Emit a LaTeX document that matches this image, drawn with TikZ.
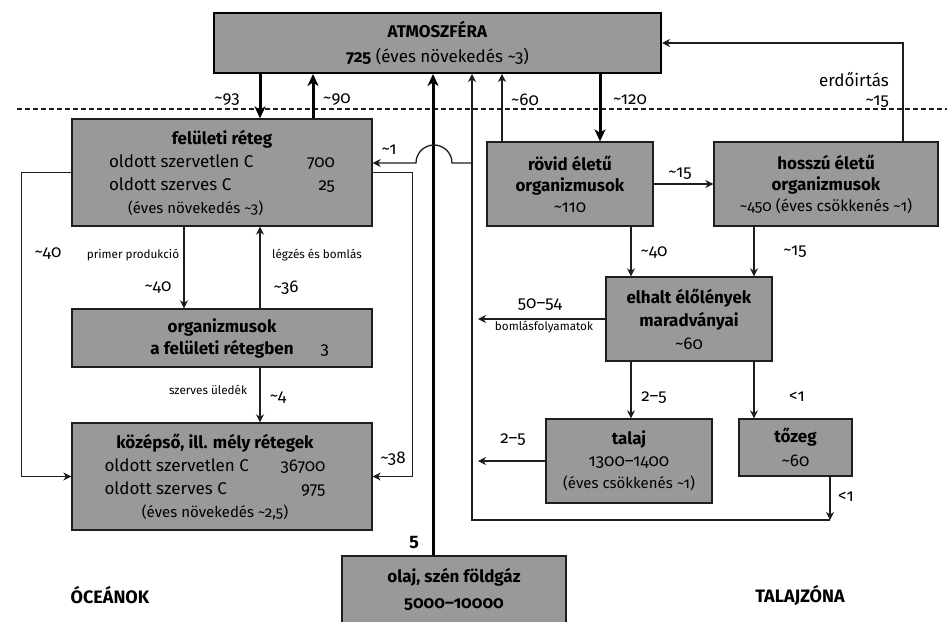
\documentclass[tikz,border=0pt]{standalone}
\usepackage{fontspec}
\setmainfont{Fira Sans}[Numbers=OldStyle]
\usetikzlibrary{arrows.meta}
\newcommand\apx{\textasciitilde}
\newcommand\kline[1]{\makebox[235pt][l]{\makebox[221pt]{#1}}}
\definecolor{boxgray}{RGB}{153,153,153}
\definecolor{ink}{RGB}{30,30,30}
\begin{document}
\begin{tikzpicture}[x=1pt,y=-1pt,
 box/.style={draw=ink, fill=boxgray, line width=1.3pt, inner sep=0pt, align=center, font=\fontsize{17}{23}\selectfont},
 arr/.style={draw=ink, line width=1.3pt, -{Stealth[length=8pt,width=8pt,inset=2.5pt]}},
 thk/.style={draw=black, line width=3pt, -{Stealth[length=12pt,width=11pt,inset=3.5pt]}},
 lab/.style={font=\fontsize{17}{20}\selectfont, inner sep=0pt},
 sml/.style={font=\fontsize{11.7}{14}\selectfont, inner sep=0pt},
 ttl/.style={font=\fontsize{18}{20}\selectfont\bfseries, inner sep=0pt},
]
\useasboundingbox (0,0) rectangle (947,621);
\clip (0,0) rectangle (947,621);

% dashed boundary
\coordinate (d0) at (17,109);
\coordinate (d1) at (947,109);
\draw[dash pattern=on 5pt off 3pt, line width=1.1pt, draw=ink] (d0) -- (d1);

% boxes
\node[box, minimum width=447pt, minimum height=60pt, line width=2pt, draw=black, font=\fontsize{17}{25}\selectfont] (atm) at (437.5,43)
  {\textbf{ATMOSZFÉRA}\\\textbf{725} (éves növekedés \apx3)};
\node[box, minimum width=300pt, minimum height=107pt] (fel) at (222,172.5)
  {\textbf{felületi réteg}\\
   \makebox[226pt]{oldott szervetlen C\hfill 700}\\
   \makebox[226pt]{oldott szerves C\hfill 25}\\
   \makebox[226pt][l]{\hspace{19pt}\fontsize{15}{23}\selectfont(éves növekedés \apx3)}};
\node[box, minimum width=300pt, minimum height=58pt, font=\fontsize{17}{22}\selectfont\bfseries] (org) at (222,338)
  {organizmusok\\a felületi rétegben\rlap{\hspace{27pt}\mdseries 3}};
\node[box, minimum width=300pt, minimum height=107pt] (koz) at (222,476.5)
  {\kline{\textbf{középső, ill. mély rétegek}}\\
   \kline{oldott szervetlen C\hfill 36700}\\
   \kline{oldott szerves C\hfill 975}\\
   \kline{\fontsize{15}{23}\selectfont(éves növekedés \apx2,5)}};
\node[box, minimum width=166pt, minimum height=84pt, font=\fontsize{17}{21}\selectfont] (rov) at (570,184)
  {\textbf{rövid életű}\\\textbf{organizmusok}\\\apx110};
\node[box, minimum width=224pt, minimum height=84pt, font=\fontsize{17}{21}\selectfont] (hos) at (826,184)
  {\textbf{hosszú életű}\\\textbf{organizmusok}\\{\fontsize{15.5}{21}\selectfont\apx450 (éves csökkenés \apx1)}};
\node[box, minimum width=166pt, minimum height=84pt] (elh) at (689,319)
  {\textbf{elhalt élőlények}\\\textbf{maradványai}\\\apx60};
\node[box, minimum width=166pt, minimum height=84pt, font=\fontsize{17}{22}\selectfont] (tal) at (629,461)
  {\textbf{talaj}\\1300–1400\\{\fontsize{15}{22}\selectfont(éves csökkenés \apx1)}};
\node[box, minimum width=113pt, minimum height=57pt, font=\fontsize{17}{24}\selectfont] (toz) at (795.5,447.5)
  {\textbf{tőzeg}\\\apx60};
\node[box, minimum width=224pt, minimum height=67pt, font=\fontsize{17}{26}\selectfont\bfseries] (ola) at (454,589.5)
  {olaj, szén földgáz\\5000–10000};

% coordinates
\coordinate (xA) at (260,0);
\coordinate (xB) at (313,0);
\coordinate (xC) at (433,0);
\coordinate (xD) at (472,0);
\coordinate (xE) at (502,0);
\coordinate (xF) at (600,0);
\coordinate (xG) at (631,0);
\coordinate (xH) at (754,0);
\coordinate (xI) at (903,0);
\coordinate (xJ) at (184,0);
\coordinate (xK) at (830,0);
\coordinate (hop) at (472,163);
\coordinate (jn) at (830,520);
\coordinate (e1) at (478,319);
\coordinate (e2) at (478,461);

% atmosphere exchanges
\draw[thk] (atm.south -| xA) -- (fel.north -| xA);
\draw[thk] (fel.north -| xB) -- (atm.south -| xB);
\draw[thk] (ola.north -| xC) -- (atm.south -| xC);
\draw[arr] (rov.north -| xE) -- (atm.south -| xE);
\draw[thk] (atm.south -| xF) -- (rov.north -| xF);
\draw[arr] (hos.north -| xI) |- (atm.east);

% peat / return line
\draw[arr] (toz.south -| xK) -- (jn);
\draw[arr] (jn) -- (jn -| xD) -- (atm.south -| xD);
\draw[arr] (hop) -- ++(-20,0) arc[start angle=0, end angle=180, radius=18pt] -- (fel.east |- hop);

% land
\draw[arr] (rov.east) -- (hos.west);
\draw[arr] (rov.south -| xG) -- (elh.north -| xG);
\draw[arr] (hos.south -| xH) -- (elh.north -| xH);
\draw[arr] (elh.west) -- (e1);
\draw[arr] (elh.south -| xG) -- (tal.north -| xG);
\draw[arr] (elh.south -| xH) -- (toz.north -| xH);
\draw[arr] (tal.west) -- (e2);

% ocean
\draw[arr] (fel.west) -- ++(-50,0) |- (koz.west);
\draw[arr] (fel.east) -- ++(40,0) |- (koz.east);
\draw[arr] (fel.south -| xJ) -- (org.north -| xJ);
\draw[arr] (org.north -| xA) -- (fel.south -| xA);
\draw[arr] (org.south -| xA) -- (koz.north -| xA);

% labels
\node[lab] (l93) at (227,100) {\apx93};
\node[lab] (l90) at (337,100) {\apx90};
\node[lab] (l1) at (389,150) {\apx1};
\node[lab] (l60) at (525,100) {\apx60};
\node[lab] (l120) at (630,100) {\apx120};
\node[lab, anchor=east] (lerd) at (889,80) {erdőirtás};
\node[lab, anchor=east] (lerd2) at (889,102) {\apx15};
\node[lab] (l15a) at (680,174) {\apx15};
\node[lab] (l40r) at (654,253) {\apx40};
\node[lab] (l15b) at (795,252) {\apx15};
\node[lab] (l5054) at (540,305) {50–54};
\node[sml] (lboml) at (544,327) {bomlásfolyamatok};
\node[lab] (l25a) at (654,398) {2–5};
\node[lab] (llt1) at (797,397) {<1};
\node[lab] (l25b) at (513,440) {2–5};
\node[lab] (llt2) at (846,497) {<1};
\node[lab] (l40a) at (48,254) {\apx40};
\node[sml] (lprim) at (133,255) {primer produkció};
\node[lab] (l40b) at (158,288) {\apx40};
\node[sml] (llegz) at (317,255) {légzés és bomlás};
\node[lab] (l36) at (286,288) {\apx36};
\node[sml] (lszerv) at (208,390) {szerves üledék};
\node[lab] (l4) at (278,398) {\apx4};
\node[lab] (l38) at (393,459) {\apx38};
\node[ttl] (l5) at (414,542) {5};
\node[ttl] (locean) at (110,595) {ÓCEÁNOK};
\node[ttl] (lland) at (800,595) {TALAJZÓNA};
\end{tikzpicture}
\end{document}
